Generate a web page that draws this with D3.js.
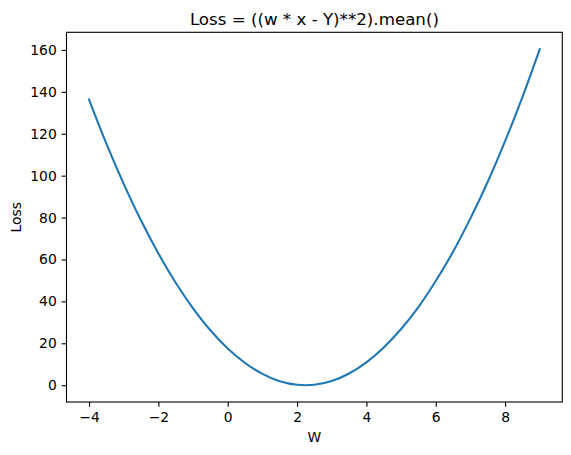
<!DOCTYPE html>
<html>
<head>
<meta charset="utf-8">
<script src="https://cdn.jsdelivr.net/npm/d3@7"></script>
<style>
  body { margin: 0; background: white; }
  text { font-family: "DejaVu Sans", sans-serif; fill: black; }
</style>
</head>
<body>
<script>
// w values and the loss
var wValues = [-4, -3.5, -3, -2.5, -2, -1.5, -1, -0.5, 0, 0.5, 1, 1.5, 2, 2.5,
               3, 3.5, 4, 4.5, 5, 5.5, 6, 6.5, 7, 7.5, 8, 8.5, 9];
var lossValues = [136.3, 115.3, 96.1, 78.6, 62.9, 48.9, 36.7, 26.2, 17.5, 10.6, 5.4, 1.9, 0.2, 0.2,
                  2.0, 5.6, 10.9, 18.0, 26.8, 37.3, 49.7, 63.7, 79.6, 97.1, 116.5, 137.5, 160.4];
var xTicks = [-4, -2, 0, 2, 4, 6, 8];
var yTicks = [0, 20, 40, 60, 80, 100, 120, 140, 160];

var width = 571, height = 455;
// plot frame (can't call it "top", that's window.top)
var pLeft = 66.5, pRight = 562.3, pTop = 32.3, pBottom = 402;

var svg = d3.select("body").append("svg")
  .attr("width", width)
  .attr("height", height);

// matplotlib-style 5% margins
var x = d3.scaleLinear().domain([-4.65, 9.65]).range([pLeft, pRight]);
var y = d3.scaleLinear().domain([-8.02, 168.42]).range([pBottom, pTop]);

var pts = wValues.map(function(w, i) { return [w, lossValues[i]]; });

var line = d3.line()
  .x(function(d) { return x(d[0]); })
  .y(function(d) { return y(d[1]); })
  .curve(d3.curveCatmullRom.alpha(0.5));

svg.append("path")
  .datum(pts)
  .attr("fill", "none")
  .attr("stroke", "#1f77b4")
  .attr("stroke-width", 2.08)
  .attr("stroke-linecap", "square")
  .attr("d", line);

// axes
var xAxis = d3.axisBottom(x).tickValues(xTicks).tickSize(4.86).tickPadding(4.86)
  .tickFormat(function(d) { return d < 0 ? "\u2212" + Math.abs(d) : d; });
var yAxis = d3.axisLeft(y).tickValues(yTicks).tickSize(4.86).tickPadding(4.86);

var gx = svg.append("g").attr("transform", "translate(0," + pBottom + ")").call(xAxis);
var gy = svg.append("g").attr("transform", "translate(" + pLeft + ",0)").call(yAxis);

[gx, gy].forEach(function(g) {
  g.attr("font-size", null).attr("font-family", null);
  g.select(".domain").remove();
  g.selectAll("line").attr("stroke", "black").attr("stroke-width", 1.1);
  g.selectAll("text").style("font-size", "13.9px");
});

// frame
svg.append("rect")
  .attr("x", pLeft).attr("y", pTop)
  .attr("width", pRight - pLeft).attr("height", pBottom - pTop)
  .attr("fill", "none")
  .attr("stroke", "black")
  .attr("stroke-width", 1.1);

svg.append("text")
  .attr("x", (pLeft + pRight) / 2)
  .attr("y", 25)
  .attr("text-anchor", "middle")
  .style("font-size", "16.67px")
  .text("Loss = ((w * x - Y)**2).mean()");

svg.append("text")
  .attr("x", (pLeft + pRight) / 2)
  .attr("y", 441.7)
  .attr("text-anchor", "middle")
  .style("font-size", "13.9px")
  .text("W");

svg.append("text")
  .attr("transform", "translate(21," + (pTop + pBottom) / 2 + ") rotate(-90)")
  .attr("text-anchor", "middle")
  .style("font-size", "13.9px")
  .text("Loss");
</script>
</body>
</html>
